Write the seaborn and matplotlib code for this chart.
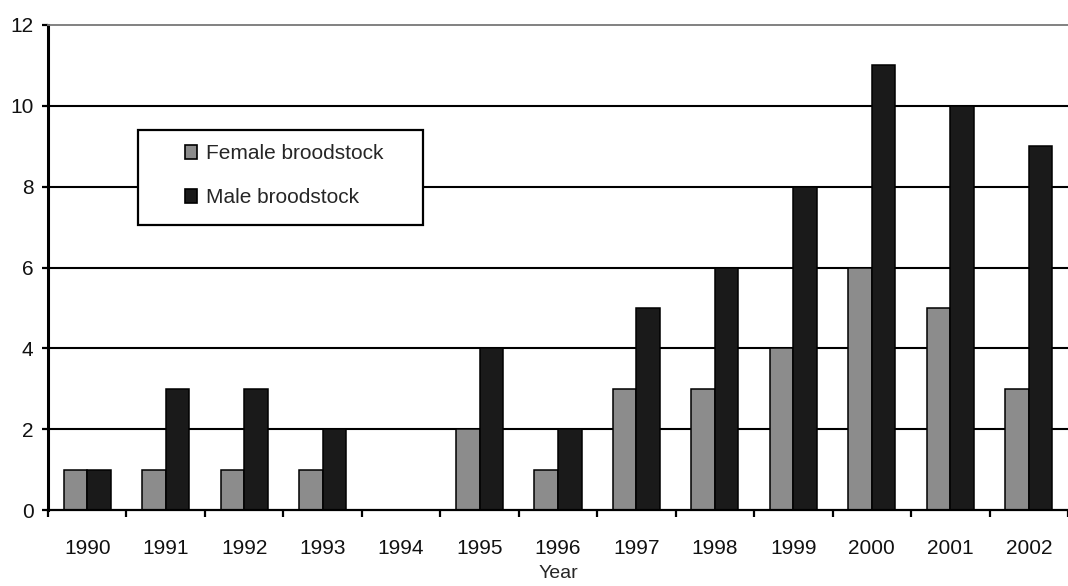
import numpy as np
import pandas as pd
import seaborn as sns
import matplotlib.pyplot as plt
from matplotlib.patches import Rectangle

YEARS = ["1990", "1991", "1992", "1993", "1994", "1995", "1996",
         "1997", "1998", "1999", "2000", "2001", "2002"]
FEMALE = [1, 1, 1, 1, 0, 2, 1, 3, 3, 4, 6, 5, 3]
MALE = [1, 3, 3, 2, 0, 4, 2, 5, 6, 8, 11, 10, 9]
SERIES = ["Female broodstock", "Male broodstock"]
COLORS = ["#8c8c8c", "#1a1a1a"]
Y_TICKS = [0, 2, 4, 6, 8, 10, 12]

FONT_SIZE = 15


def main():
    sns.set_theme(style="white")
    plt.rcParams["font.family"] = ["Liberation Sans", "DejaVu Sans"]
    plt.rcParams["font.size"] = FONT_SIZE

    df = pd.DataFrame({
        "Year": YEARS * 2,
        "Count": FEMALE + MALE,
        "Sex": [SERIES[0]] * len(YEARS) + [SERIES[1]] * len(YEARS),
    })

    fig = plt.figure(figsize=(10.68, 5.86), dpi=100)
    ax = fig.add_axes([48 / 1068, 76 / 586, 1020 / 1068, 485 / 586])

    # horizontal gridlines behind the bars
    for y in Y_TICKS[1:-1]:
        ax.axhline(y, color="black", lw=1.5, zorder=0)

    sns.barplot(
        data=df, x="Year", y="Count", hue="Sex", order=YEARS,
        hue_order=SERIES, palette=COLORS, width=0.6, gap=0,
        edgecolor="black", linewidth=1.1, saturation=1, ax=ax, zorder=2,
    )

    ax.set_xlim(-0.5, len(YEARS) - 0.5)
    ax.set_ylim(0, 12)
    ax.set_yticks(Y_TICKS)
    ax.set_ylabel("")
    ax.set_xlabel("Year", fontsize=FONT_SIZE - 1, labelpad=5)

    # spines
    ax.spines["right"].set_visible(False)
    ax.spines["top"].set_color("#777777")
    ax.spines["top"].set_linewidth(1.3)
    ax.spines["left"].set_linewidth(2.2)
    ax.spines["left"].set_color("black")
    ax.spines["bottom"].set_linewidth(1.6)
    ax.spines["bottom"].set_color("black")

    # category ticks: labels centred, tick marks between categories
    ax.set_xticks(np.arange(-0.5, len(YEARS), 1.0), minor=True)
    ax.tick_params(axis="x", which="major", length=0, pad=21,
                   labelsize=FONT_SIZE, colors="#111111")
    ax.tick_params(axis="x", which="minor", bottom=True, length=5,
                   width=1.6, color="black")
    ax.tick_params(axis="y", left=True, length=4.5, width=1.6,
                   color="black", pad=6, labelsize=FONT_SIZE,
                   labelcolor="#111111")

    # legend inside a framed box
    ax.get_legend().remove()
    box = Rectangle((0.0882, 0.5876), 0.2794, 0.1959, transform=ax.transAxes,
                    facecolor="white", edgecolor="black", lw=1.6, zorder=3)
    ax.add_patch(box)
    handles = [Rectangle((0, 0), 1, 1, facecolor=c, edgecolor="black", lw=1.2)
               for c in COLORS]
    leg = ax.legend(
        handles, SERIES, loc="center left",
        bbox_to_anchor=(0.134, 0.689), frameon=False,
        handlelength=0.6, handleheight=0.6, handletextpad=0.4,
        labelspacing=1.2, borderpad=0, borderaxespad=0,
        fontsize=FONT_SIZE,
    )
    leg.set_zorder(4)

    fig.savefig("out.png", dpi=100)


if __name__ == "__main__":
    main()
